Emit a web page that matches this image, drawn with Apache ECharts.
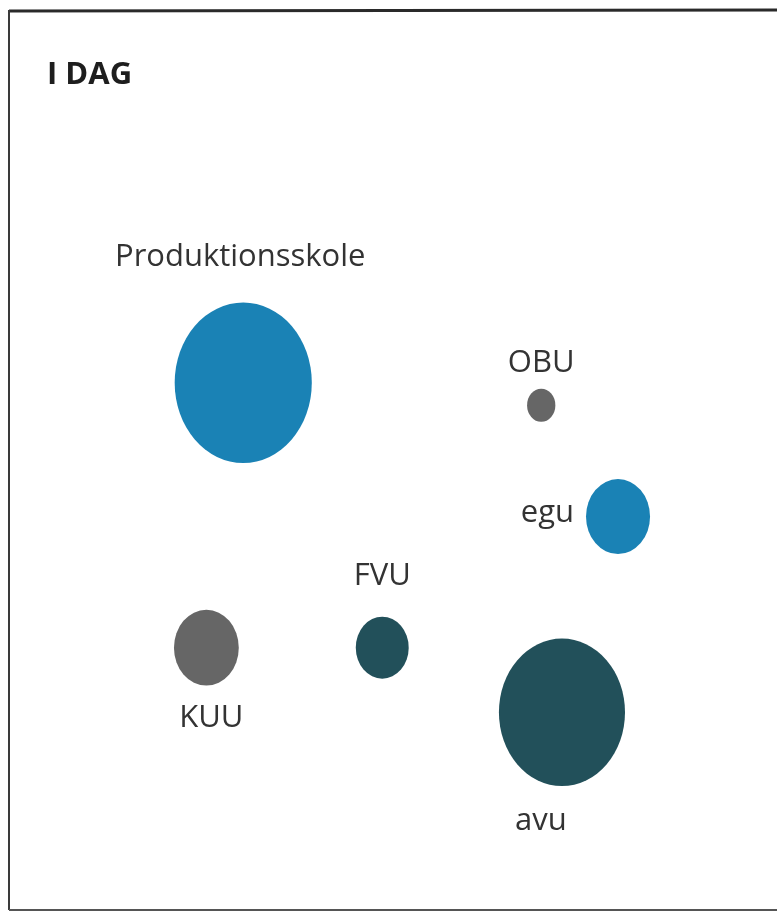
<!DOCTYPE html>
<html>
<head>
<meta charset="utf-8">
<script src="https://cdn.jsdelivr.net/npm/echarts@6/dist/echarts.min.js"></script>
<style>
html,body{margin:0;padding:0;background:#ffffff;}
#chart{width:777px;height:914px;}
</style>
</head>
<body>
<div id="chart"></div>
<script>
// Data
var titleText = 'I DAG';
var names = ['Produktionsskole', 'OBU', 'egu', 'FVU', 'KUU', 'avu'];
var xValues = [30.5, 69.3, 79.3, 48.6, 25.7, 72.0];
var yValues = [58.6, 56.1, 43.7, 29.1, 29.1, 21.9];
var sizeValues = [188, 8, 41, 28, 42, 159];
var groups = ['blue', 'grey', 'blue', 'teal', 'grey', 'teal'];

var groupColors = { blue: '#1a82b5', grey: '#666666', teal: '#22505a' };
var labelPlacement = {
  'Produktionsskole': { position: 'top', distance: 30, offset: [-3, 0] },
  'OBU': { position: 'top', distance: 10, offset: [0, 0] },
  'egu': { position: 'left', distance: 12, offset: [0, -3] },
  'FVU': { position: 'top', distance: 25, offset: [0, 0] },
  'KUU': { position: 'bottom', distance: 17, offset: [5, 0] },
  'avu': { position: 'bottom', distance: 20, offset: [-21, 0] }
};

var data = names.map(function (n, i) {
  var lp = labelPlacement[n];
  return {
    name: n,
    value: [xValues[i], yValues[i], sizeValues[i]],
    itemStyle: { color: groupColors[groups[i]], opacity: 1 },
    label: { position: lp.position, distance: lp.distance, offset: lp.offset }
  };
});

var chart = echarts.init(document.getElementById('chart'), null, { renderer: 'canvas' });
chart.setOption({
  backgroundColor: '#ffffff',
  animation: false,
  title: {
    text: titleText,
    left: 42,
    top: 55,
    textStyle: { fontFamily: 'Open Sans', fontWeight: 'bold', fontSize: 31, color: '#1e1e1e' }
  },
  graphic: [
    { type: 'line', shape: { x1: 9, y1: 11, x2: 777, y2: 10 }, style: { stroke: '#2a2a2a', lineWidth: 3 }, silent: true },
    { type: 'line', shape: { x1: 9, y1: 10, x2: 9, y2: 910 }, style: { stroke: '#3a3a3a', lineWidth: 2 }, silent: true },
    { type: 'line', shape: { x1: 9, y1: 910, x2: 777, y2: 910 }, style: { stroke: '#555555', lineWidth: 2 }, silent: true }
  ],
  grid: { left: 9, top: 11, right: 0, bottom: 5, show: false },
  xAxis: { type: 'value', min: 0, max: 100, show: false },
  yAxis: { type: 'value', min: 0, max: 100, show: false },
  series: [{
    type: 'scatter',
    data: data,
    symbol: 'circle',
    symbolSize: function (val) {
      var d = Math.sqrt(val[2]) * 10;
      return [d, d * 1.17];
    },
    label: {
      show: true,
      formatter: '{b}',
      fontFamily: 'Open Sans',
      fontSize: 31,
      color: '#333333'
    },
    emphasis: { disabled: true }
  }]
});
</script>
</body>
</html>
